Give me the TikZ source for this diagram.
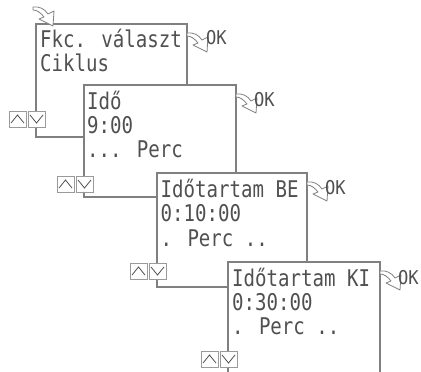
\documentclass[tikz,border=0pt]{standalone}
\usepackage{fontspec}
\newfontfamily\lcdfont[FakeStretch=0.83]{DejaVu Sans Mono}
\newfontfamily\okfont[FakeStretch=0.9]{DejaVu Sans Mono}
\definecolor{linegray}{HTML}{808080}
\definecolor{textgray}{HTML}{505050}
\definecolor{btngray}{HTML}{9A9A9A}
\tikzset{
  screen/.style={draw=linegray, line width=1.2pt, fill=white},
  lcdtext/.style={anchor=base west, inner sep=0pt, text=textgray, font=\lcdfont\fontsize{23}{24}\selectfont},
  oktext/.style={anchor=base west, inner sep=0pt, text=textgray, font=\okfont\fontsize{19}{20}\selectfont},
  curvearrow/.style={draw=linegray, line width=0.8pt, fill=white, line join=round},
  btn/.style={draw=btngray, line width=0.8pt, fill=white},
  chev/.style={draw=textgray, line width=0.8pt},
  okarrow/.pic={\path[curvearrow] (0,0) .. controls (6,-1) and (12,2) .. (15,7) -- (21,4) -- (20,19) -- (6,12) -- (11,10) .. controls (8,6) and (4,3) .. (0,3) -- cycle;},
  updown/.pic={
    \path[btn] (-27,0) rectangle (-10,16);
    \draw[chev] (-25,12) -- (-18.5,4) -- (-12,12);
    \path[btn] (-8,0) rectangle (9,16);
    \draw[chev] (-6,4) -- (0.5,12) -- (7,4);
  }
}
\begin{document}
\begin{tikzpicture}[x=1pt,y=-1pt]
\clip (0,0) rectangle (421,372);
\fill[white] (0,0) rectangle (421,372);

% screen 1
\path[screen] (36,24) rectangle (187,137);
\node[lcdtext] (t1a) at (40,47) {Fkc. választ};
\node[lcdtext] (t1b) at (40,71) {Ciklus};
\pic (a1) at (187,33) {okarrow};
\node[oktext] (ok1) at (206,45) {OK};
\pic (b1) at (36,111) {updown};
\pic (a0) at (33,7) {okarrow};

% screen 2
\path[screen] (84,85) rectangle (236,197);
\node[lcdtext] (t2a) at (87,109) {Idő};
\node[lcdtext] (t2b) at (87,133) {9:00};
\node[lcdtext] (t2c) at (87,157) {... Perc};
\pic (a2) at (236,94) {okarrow};
\node[oktext] (ok2) at (254,106) {OK};
\pic (b2) at (84,176) {updown};

% screen 3
\path[screen] (157,173) rectangle (307,287);
\node[lcdtext] (t3a) at (160.5,197) {Időtartam BE};
\node[lcdtext] (t3b) at (160.5,221) {0:10:00};
\node[lcdtext] (t3c) at (160.5,246) {. Perc ..};
\pic (a3) at (307,182) {okarrow};
\node[oktext] (ok3) at (325,194) {OK};
\pic (b3) at (157,263) {updown};

% screen 4
\path[screen] (228,262) rectangle (380,400);
\node[lcdtext] (t4a) at (232,286) {Időtartam KI};
\node[lcdtext] (t4b) at (232,310) {0:30:00};
\node[lcdtext] (t4c) at (232,334) {. Perc ..};
\pic (a4) at (380,271) {okarrow};
\node[oktext] (ok4) at (398,284) {OK};
\pic (b4) at (228,351) {updown};
\end{tikzpicture}
\end{document}
